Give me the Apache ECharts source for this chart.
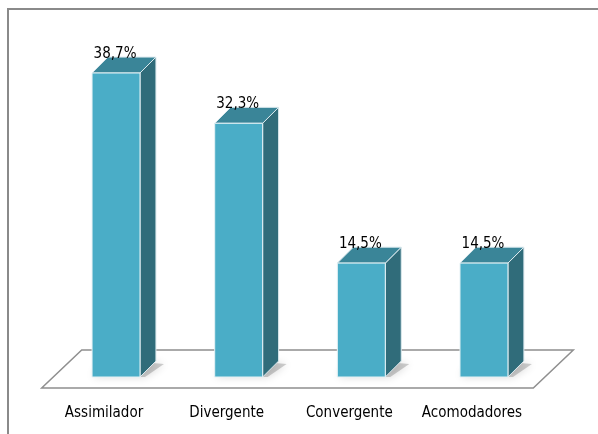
<!DOCTYPE html>
<html><head><meta charset="utf-8">
<script src="https://cdn.jsdelivr.net/npm/echarts@6/dist/echarts.min.js"></script>
<style>html,body{margin:0;padding:0;background:#fff}#c{width:598px;height:434px}</style>
</head><body><div id="c"></div>
<script>
const categories = ['Assimilador', 'Divergente', 'Convergente', 'Acomodadores'];
const values = [38.7, 32.3, 14.5, 14.5];
const valueLabels = ['38,7%', '32,3%', '14,5%', '14,5%'];

const FONT = '"DejaVu Sans Condensed", "Liberation Sans", sans-serif';
const chart = echarts.init(document.getElementById('c'));

function renderBar(params, api) {
  const i = api.value(0), v = api.value(1);
  const top = api.coord([i, v]);
  const base = api.coord([i, 0]);
  const bw = api.size([1, 0])[0];
  const w = bw * 0.391, d = bw * 0.13;
  const x0 = top[0] - w / 2, x1 = x0 + w, yT = top[1], yB = base[1];
  return {
    type: 'group',
    children: [
      { type: 'polygon', shape: { points: [[x0 + 2, yB - 4], [x0 + d, yB - d - 2], [x1 + d + 8, yB - d + 3], [x1 + 5, yB], [x0 + 2, yB]] },
        style: { fill: 'rgba(40,40,40,0.22)', shadowBlur: 9, shadowColor: 'rgba(0,0,0,0.7)' }, z2: 0 },
      { type: 'polygon', shape: { points: [[x1, yT], [x1 + d, yT - d], [x1 + d, yB - d], [x1, yB]] },
        style: { fill: '#306c7a', stroke: '#dbe9ee', lineWidth: 1 }, z2: 1 },
      { type: 'polygon', shape: { points: [[x0, yT], [x0 + d, yT - d], [x1 + d, yT - d], [x1, yT]] },
        style: { fill: '#3a8598', stroke: '#dbe9ee', lineWidth: 1 }, z2: 1 },
      { type: 'rect', shape: { x: x0, y: yT, width: w, height: yB - yT },
        style: { fill: '#4aadc7', stroke: '#e6f2f5', lineWidth: 1 }, z2: 2 },
      { type: 'text', x: top[0] - 1, y: yT - d - 3,
        style: { text: valueLabels[i], fill: '#000', font: '15px ' + FONT, align: 'center', verticalAlign: 'middle' }, z2: 3 }
    ]
  };
}

function renderFloor(params, api) {
  const cs = params.coordSys;
  const L = cs.x, R = cs.x + cs.width, B = cs.y + cs.height;
  return {
    type: 'polygon',
    shape: { points: [[L + 27, B - 27], [R + 28, B - 27], [R - 12, B + 11], [L - 13, B + 11]] },
    style: { fill: '#fff', stroke: '#8f8f8f', lineWidth: 1.5 }
  };
}

chart.setOption({
  animation: false,
  graphic: [{ type: 'rect', shape: { x: 8, y: 9, width: 700, height: 600 },
    style: { fill: 'none', stroke: '#8a8a8a', lineWidth: 2 }, z: -10 }],
  grid: { left: 54.7, right: 52.7, top: 62.8, bottom: 57 },
  xAxis: {
    type: 'category', data: categories,
    axisLine: { show: false }, axisTick: { show: false },
    axisLabel: { interval: 0, margin: 29, color: '#000', fontSize: 15, fontFamily: FONT, padding: [0, 24, 0, 0] }
  },
  yAxis: { type: 'value', min: 0, max: 40, show: false, splitLine: { show: false } },
  series: [
    { type: 'custom', renderItem: renderFloor, data: [[0, 0]], z: 1, silent: true },
    { type: 'custom', renderItem: renderBar, data: values.map((v, i) => [i, v]), z: 2 }
  ]
});
</script></body></html>
